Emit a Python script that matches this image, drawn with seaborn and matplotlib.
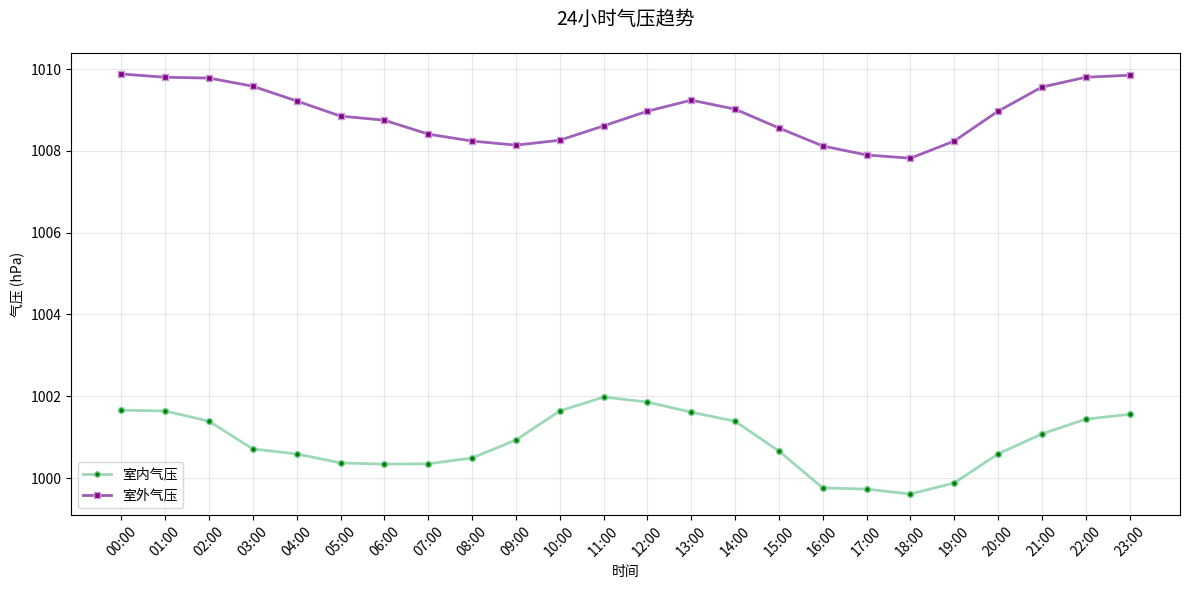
import pandas as pd
import matplotlib
matplotlib.use('Agg')
import matplotlib.pyplot as plt
from matplotlib.lines import Line2D
import seaborn as sns

# 时间与气压数据
hours = ['%02d:00' % h for h in range(24)]
indoor = [1001.66, 1001.64, 1001.39, 1000.71, 1000.59, 1000.37, 1000.34, 1000.35,
          1000.49, 1000.93, 1001.64, 1001.98, 1001.86, 1001.61, 1001.39, 1000.66,
          999.76, 999.73, 999.61, 999.88, 1000.59, 1001.08, 1001.44, 1001.56]
outdoor = [1009.88, 1009.80, 1009.78, 1009.58, 1009.22, 1008.85, 1008.75, 1008.41,
           1008.24, 1008.14, 1008.26, 1008.61, 1008.97, 1009.24, 1009.02, 1008.56,
           1008.12, 1007.90, 1007.82, 1008.24, 1008.97, 1009.56, 1009.80, 1009.85]

df = pd.DataFrame({'时间': hours, '室内气压': indoor, '室外气压': outdoor})

# 使用matplotlib默认样式, 设置中文字体
plt.rcParams['font.family'] = ['Noto Sans CJK SC', 'DejaVu Sans']
plt.rcParams['axes.unicode_minus'] = False

fig, ax = plt.subplots(figsize=(11.89, 5.9), dpi=100)

# 线条
sns.lineplot(data=df, x='时间', y='室内气压', color='#3CB371', alpha=0.5, linewidth=2, ax=ax)
sns.lineplot(data=df, x='时间', y='室外气压', color='#8e44ad', alpha=0.85, linewidth=2, ax=ax)
# 数据点
sns.scatterplot(data=df, x='时间', y='室内气压', color='green', marker='o', s=18,
                edgecolor='#7fcf9f', linewidth=1, ax=ax, zorder=3)
sns.scatterplot(data=df, x='时间', y='室外气压', color='purple', marker='s', s=22,
                edgecolor='#c89bd8', linewidth=1, ax=ax, zorder=3)

handles = [
    Line2D([], [], color='#9fd6b6', linewidth=2, marker='o', markersize=4,
           markerfacecolor='green', markeredgecolor='#7fcf9f'),
    Line2D([], [], color='#9b59b6', linewidth=2, marker='s', markersize=5,
           markerfacecolor='purple', markeredgecolor='#c89bd8'),
]
ax.legend(handles, ['室内气压', '室外气压'], loc='lower left')

ax.set_title('24小时气压趋势', fontsize=14, pad=20)
ax.set_xlabel('时间')
ax.set_ylabel('气压 (hPa)')
ax.grid(True, alpha=0.3)
plt.xticks(rotation=45)

plt.subplots_adjust(left=0.0597, right=0.9924, top=0.9102, bottom=0.1271)
plt.savefig('out.png', dpi=100)
